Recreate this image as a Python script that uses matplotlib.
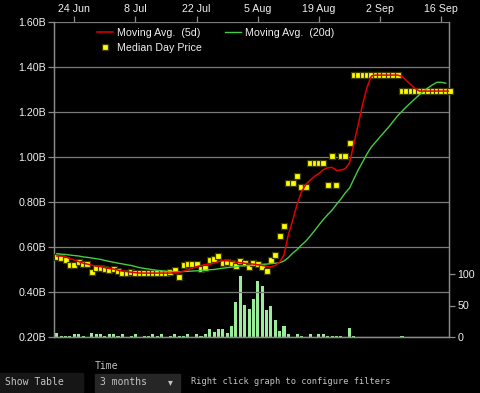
import matplotlib
matplotlib.use('Agg')
import matplotlib.pyplot as plt
import pandas as pd
from matplotlib.lines import Line2D
from matplotlib.patches import Rectangle

# daily data, 20 Jun -> 19 Sep
dates = pd.date_range('2023-06-20', periods=91, freq='D')

median_price = [
    0.555, 0.551, 0.542, 0.519, 0.519, 0.533, 0.524, 0.524, 0.488, 0.506,
    0.506, 0.502, 0.497, 0.502, 0.493, 0.484, 0.484, 0.488, 0.484, 0.484,
    0.484, 0.484, 0.484, 0.484, 0.484, 0.484, 0.488, 0.497, 0.466, 0.519,
    0.524, 0.524, 0.524, 0.502, 0.506, 0.542, 0.546, 0.560, 0.528, 0.533,
    0.528, 0.515, 0.537, 0.528, 0.511, 0.528, 0.524, 0.511, 0.493, 0.542,
    0.564, 0.649, 0.693, 0.884, 0.884, 0.915, 0.866, 0.866, 0.973, 0.973,
    0.973, 0.973, 0.875, 1.004, 0.875, 1.004, 1.004, 1.062, 1.364, 1.364,
    1.364, 1.364, 1.364, 1.364, 1.364, 1.364, 1.364, 1.364, 1.364, 1.293,
    1.293, 1.293, 1.293, 1.293, 1.293, 1.293, 1.293, 1.293, 1.293, 1.293,
    1.293,
]

ma_5d = [
    0.560, 0.560, 0.557, 0.548, 0.542, 0.535, 0.528, 0.524, 0.519, 0.515,
    0.513, 0.508, 0.504, 0.502, 0.497, 0.493, 0.491, 0.488, 0.486, 0.484,
    0.484, 0.484, 0.484, 0.484, 0.484, 0.484, 0.484, 0.486, 0.487, 0.493,
    0.499, 0.506, 0.513, 0.517, 0.522, 0.524, 0.528, 0.535, 0.540, 0.539,
    0.536, 0.533, 0.530, 0.528, 0.526, 0.524, 0.521, 0.518, 0.514, 0.512,
    0.518, 0.533, 0.565, 0.655, 0.720, 0.790, 0.845, 0.878, 0.898, 0.914,
    0.927, 0.944, 0.952, 0.954, 0.940, 0.942, 0.948, 0.975, 1.060, 1.145,
    1.235, 1.310, 1.360, 1.364, 1.364, 1.364, 1.364, 1.364, 1.364, 1.358,
    1.340, 1.322, 1.305, 1.293, 1.293, 1.293, 1.293, 1.293, 1.293, 1.293,
    1.293,
]

ma_20d = [
    0.571, 0.568, 0.567, 0.564, 0.562, 0.560, 0.556, 0.554, 0.551, 0.548,
    0.545, 0.540, 0.536, 0.532, 0.528, 0.525, 0.521, 0.518, 0.513, 0.508,
    0.505, 0.502, 0.499, 0.496, 0.494, 0.492, 0.491, 0.490, 0.490, 0.491,
    0.492, 0.493, 0.494, 0.495, 0.497, 0.499, 0.500, 0.503, 0.506, 0.508,
    0.511, 0.512, 0.516, 0.517, 0.518, 0.520, 0.521, 0.523, 0.524, 0.526,
    0.528, 0.530, 0.538, 0.553, 0.573, 0.589, 0.609, 0.626, 0.649, 0.673,
    0.698, 0.722, 0.744, 0.764, 0.789, 0.813, 0.840, 0.862, 0.903, 0.943,
    0.978, 1.014, 1.045, 1.067, 1.090, 1.112, 1.134, 1.159, 1.183, 1.203,
    1.223, 1.241, 1.259, 1.277, 1.292, 1.308, 1.321, 1.332, 1.332, 1.328,
]

volume = [
    6, 2, 2, 2, 4, 5, 2, 0, 6, 5,
    4, 2, 4, 5, 2, 4, 0, 2, 5, 0,
    2, 2, 4, 2, 5, 0, 2, 4, 2, 2,
    4, 0, 4, 2, 5, 12, 8, 12, 13, 7,
    18, 56, 97, 51, 45, 60, 89, 81, 43, 49,
    27, 10, 18, 4, 0, 5, 2, 0, 4, 0,
    4, 4, 2, 2, 2, 2, 0, 15, 2, 0,
    0, 0, 0, 0, 0, 0, 0, 0, 0, 2,
    0, 0, 0, 0, 0, 0, 0, 0, 0, 0,
    0,
]

tick_dates = pd.to_datetime(['2023-06-24', '2023-07-08', '2023-07-22', '2023-08-05',
                             '2023-08-19', '2023-09-02', '2023-09-16'])
tick_labels = ['24 Jun', '8 Jul', '22 Jul', '5 Aug', '19 Aug', '2 Sep', '16 Sep']
price_ticks = [0.2, 0.4, 0.6, 0.8, 1.0, 1.2, 1.4, 1.6]
price_labels = ['0.20B', '0.40B', '0.60B', '0.80B', '1.00B', '1.20B', '1.40B', '1.60B']
volume_ticks = [0, 50, 100]

W, H = 480, 393
BG = '#000000'
AXC = '#8a8a8a'
TXT = '#f0f0f0'
FONT = 'Liberation Sans'


def fx(px):
    return px / W


def fy(py):
    return 1 - py / H


fig = plt.figure(figsize=(W / 100, H / 100), dpi=100, facecolor=BG)
ax = fig.add_axes([fx(54.3), fy(337), fx(449.3) - fx(54.3), fy(22) - fy(337)])
ax2 = ax.twinx()
ax.set_zorder(ax2.get_zorder() + 1)
ax.patch.set_visible(False)
ax2.patch.set_facecolor(BG)

ax2.bar(dates, volume, width=0.7, color='#98ee98', zorder=2)
ax2.set_ylim(0, 500)
ax2.set_yticks(volume_ticks)
ax2.set_yticklabels([str(v) for v in volume_ticks], family=FONT, fontsize=7.7, color=TXT)

ax.plot(dates, median_price, ls='none', marker='s', ms=3.8, mfc='#ffff00',
        mec='#3a3a00', mew=0.9, zorder=3, clip_on=False)
ax.plot(dates[:len(ma_20d)], ma_20d, color='#44cc44', lw=1.0, zorder=4)
ax.plot(dates, ma_5d, color='#e00000', lw=1.1, zorder=5)

ax.set_ylim(0.2, 1.6)
ax.set_yticks(price_ticks)
ax.set_yticklabels(price_labels, family=FONT, fontsize=7.7, color=TXT)
ax.set_xlim(pd.Timestamp('2023-06-19 10:00'), pd.Timestamp('2023-09-17 20:00'))
ax.set_xticks(tick_dates)
ax.set_xticklabels(tick_labels, family=FONT, fontsize=7.7, color=TXT)
ax.xaxis.tick_top()
ax.grid(axis='y', color='#7a7a7a', lw=0.9)

for a in (ax, ax2):
    for s in a.spines.values():
        s.set_color(AXC)
        s.set_linewidth(0.9)
    a.tick_params(colors=AXC, labelcolor=TXT, length=4, width=0.9, pad=2)
ax.spines['top'].set_visible(False)
ax2.spines['top'].set_visible(False)

handles = [
    Line2D([], [], color='#e00000', lw=1.1),
    Line2D([], [], ls='none', marker='s', ms=3.8, mfc='#ffff00', mec='#3a3a00', mew=0.9),
    Line2D([], [], color='#44cc44', lw=1.0),
]
labels = ['Moving Avg.  (5d)', 'Median Day Price', 'Moving Avg.  (20d)']
leg = ax.legend(handles, labels, ncol=2, loc='upper left', frameon=False,
                bbox_to_anchor=(fx(97), fy(28)), bbox_transform=fig.transFigure,
                borderpad=0, borderaxespad=0, handlelength=1.45, handletextpad=0.4,
                columnspacing=2.2, labelspacing=0.45,
                prop={'family': FONT, 'size': 7.7})
for t in leg.get_texts():
    t.set_color(TXT)

# controls strip under the chart
UI = '#c4c4c4'
MONO = 'DejaVu Sans Mono'
fig.add_artist(Rectangle((fx(0), fy(392)), fx(83), fy(373) - fy(392),
                         transform=fig.transFigure, color='#161616', zorder=0))
fig.add_artist(Rectangle((fx(95), fy(392)), fx(180) - fx(95), fy(374) - fy(392),
                         transform=fig.transFigure, color='#262626', zorder=0))
fig.text(fx(5), fy(382), 'Show Table', family=MONO, fontsize=7, color=UI, va='center')
fig.text(fx(95), fy(366), 'Time', family=MONO, fontsize=7, color=UI, va='center')
fig.text(fx(100), fy(382), '3 months', family=MONO, fontsize=7, color=UI, va='center')
fig.text(fx(170), fy(382), '\u25be', family='DejaVu Sans', fontsize=7, color=UI,
         va='center', ha='center')
fig.text(fx(191), fy(381), 'Right click graph to configure filters', family=MONO,
         fontsize=6.2, color=UI, va='center')

fig.savefig('out.png', dpi=100, facecolor=BG)
